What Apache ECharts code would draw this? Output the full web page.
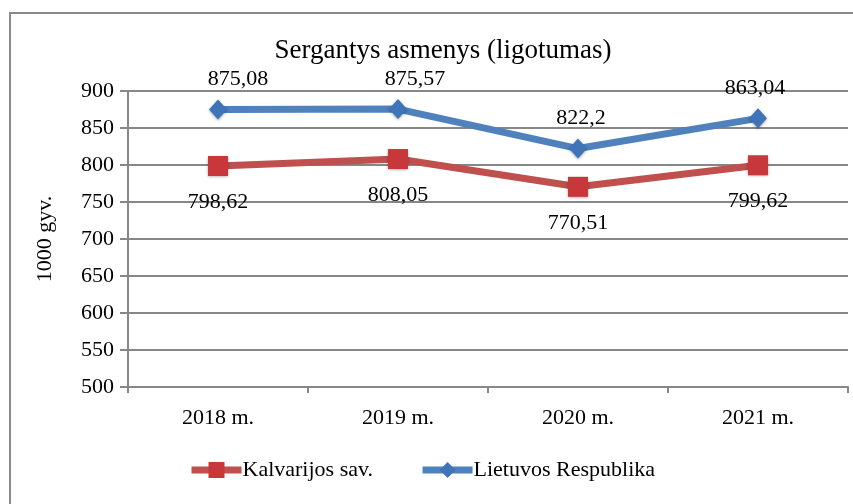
<!DOCTYPE html>
<html>
<head>
<meta charset="utf-8">
<script src="https://cdn.jsdelivr.net/npm/echarts@6/dist/echarts.min.js"></script>
<style>
	html, body { margin: 0; padding: 0; background: #fff; }
	#chart01 { width: 853px; height: 504px; }
</style>
</head>
<body>
<div id="chart01"></div>
<script>
// 차트 데이터
const categories = ['2018 m.', '2019 m.', '2020 m.', '2021 m.'];
const kalvarijos = [798.62, 808.05, 770.51, 799.62];
const lietuva = [875.08, 875.57, 822.2, 863.04];
const yTicks = { min: 500, max: 900, step: 50 };

const fontFamily = '"Liberation Serif", "Times New Roman", serif';
// 값 표시 (소수점 -> 콤마)
const fmt = function(p) {
	return String(p.value).replace('.', ',');
};
// 파란 라벨 가로 이동 (원본에서 옮겨진 위치)
const blueLabelDx = [20, 17, 3, -3];

const option = {
	animation: false,
	backgroundColor: '#fff',
	title: {
		text: 'Sergantys asmenys (ligotumas)',
		left: 438,
		textAlign: 'center',
		top: 32,
		textStyle: { fontFamily: fontFamily, fontSize: 27, fontWeight: 'normal', color: '#000' }
	},
	graphic: [
		{
			type: 'rect',
			shape: { x: 10, y: 13, width: 900, height: 600 },
			style: { fill: 'none', stroke: '#8a8a8a', lineWidth: 2 },
			silent: true
		}
	],
	legend: {
		bottom: 18,
		left: 183,
		itemWidth: 50,
		itemHeight: 20,
		itemGap: 46,
		lineStyle: { width: 7 },
		textStyle: { fontFamily: fontFamily, fontSize: 22, color: '#000', padding: [0, 0, 0, -4] },
		data: ['Kalvarijos sav.', 'Lietuvos Respublika']
	},
	grid: {
		left: 128,
		right: 5,
		top: 91,
		bottom: 117
	},
	xAxis: {
		type: 'category',
		data: categories,
		boundaryGap: true,
		axisLine: { lineStyle: { color: '#878787', width: 2 } },
		axisTick: { show: true, length: 6, lineStyle: { color: '#878787', width: 2 } },
		axisLabel: { margin: 20, fontFamily: fontFamily, fontSize: 22, color: '#000' }
	},
	yAxis: {
		type: 'value',
		min: yTicks.min,
		max: yTicks.max,
		interval: yTicks.step,
		name: '1000 gyv.',
		nameLocation: 'middle',
		nameGap: 72,
		nameRotate: 90,
		nameTextStyle: { fontFamily: fontFamily, fontSize: 22, color: '#000' },
		axisLine: { show: true, lineStyle: { color: '#878787', width: 2 } },
		axisTick: { show: true, length: 8, lineStyle: { color: '#878787', width: 2 } },
		axisLabel: { margin: 14, fontFamily: fontFamily, fontSize: 22, color: '#000' },
		splitLine: { lineStyle: { color: '#878787', width: 2 } }
	},
	series: [
		{
			name: 'Kalvarijos sav.',
			type: 'line',
			data: kalvarijos,
			symbol: 'rect',
			symbolSize: 20,
			lineStyle: { color: '#c0504d', width: 7 },
			itemStyle: { color: '#c8383a', shadowColor: 'rgba(0,0,0,0.35)', shadowBlur: 3, shadowOffsetY: 1 },
			label: {
				show: true,
				position: 'bottom',
				distance: 15,
				formatter: fmt,
				fontFamily: fontFamily,
				fontSize: 22,
				color: '#000'
			}
		},
		{
			name: 'Lietuvos Respublika',
			type: 'line',
			data: lietuva.map(function(v, i) {
				return { value: v, label: { offset: [blueLabelDx[i], 0] } };
			}),
			symbol: 'diamond',
			symbolSize: [18, 20],
			lineStyle: { color: '#4f81bd', width: 7 },
			itemStyle: { color: '#3f74b8', shadowColor: 'rgba(0,0,0,0.35)', shadowBlur: 3, shadowOffsetY: 1 },
			label: {
				show: true,
				position: 'top',
				distance: 9,
				formatter: fmt,
				fontFamily: fontFamily,
				fontSize: 22,
				color: '#000'
			}
		}
	]
};

const myChart = echarts.init(document.getElementById('chart01'), null, { renderer: 'canvas' });
myChart.setOption(option);
window.addEventListener('resize', myChart.resize);
</script>
</body>
</html>
